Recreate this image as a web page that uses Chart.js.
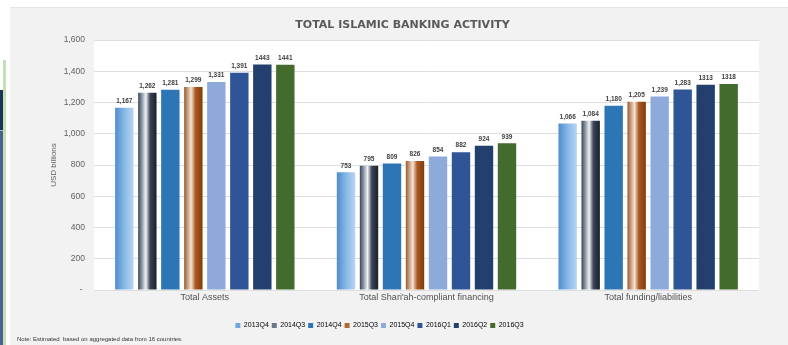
<!DOCTYPE html>
<html>
<head>
<meta charset="utf-8">
<script src="https://cdn.jsdelivr.net/npm/chart.js@4.4.1/dist/chart.umd.min.js"></script>
<style>
  html, body { margin: 0; padding: 0; background: #fff; }
  #wrap { position: relative; width: 788px; height: 345px; overflow: hidden; }
  #panel { position: absolute; left: 10px; top: 7px; width: 778px; height: 338px; background: #f2f2f2; border-top: 1px solid #e4e4e4; }
  #edgeGreen { position: absolute; left: 3px; top: 60px; width: 3px; height: 285px; background: #c5e0b4; }
  #edgeDark { position: absolute; left: 0; top: 90px; width: 3px; height: 40px; background: #1f3558; border-bottom: 1px solid #9fb6d6; }
  #edgeBlue { position: absolute; left: 0; top: 131px; width: 3px; height: 214px; background: #46648f; }
  #myChart { position: absolute; left: 0; top: 0; }
  #note { position: absolute; left: 17px; top: 336px; font: 6px "Liberation Sans", Arial, sans-serif; color: #333; white-space: pre; }
</style>
</head>
<body>
<div id="wrap">
  <div id="panel"></div>
  <div id="edgeGreen"></div>
  <div id="edgeDark"></div>
  <div id="edgeBlue"></div>
  <canvas id="myChart" width="788" height="345"></canvas>
  <div id="note">Note: Estimated  based on aggregated data from 16 countries.</div>
</div>
<script>
const categories = ['Total Assets', "Total Shari'ah-compliant financing", 'Total funding/liabilities'];
const quarters = ['2013Q4', '2014Q3', '2014Q4', '2015Q3', '2015Q4', '2016Q1', '2016Q2', '2016Q3'];

// USD billions per category, one array per quarter
const q2013Q4 = [1167, 753, 1066];
const q2014Q3 = [1262, 795, 1084];
const q2014Q4 = [1281, 809, 1180];
const q2015Q3 = [1299, 826, 1205];
const q2015Q4 = [1331, 854, 1239];
const q2016Q1 = [1391, 882, 1283];
const q2016Q2 = [1443, 924, 1313];
const q2016Q3 = [1441, 939, 1318];
const seriesValues = [q2013Q4, q2014Q3, q2014Q4, q2015Q3, q2015Q4, q2016Q1, q2016Q2, q2016Q3];

// these quarters print their labels without a thousands separator
const plainLabelQuarters = ['2016Q2', '2016Q3'];

const yTicks = [0, 200, 400, 600, 800, 1000, 1200, 1400, 1600];

// bar fills: a solid colour, plus horizontal gradient stops for the shaded ones
const fills = {
    '2013Q4': { solid: '#6fa8dc', stops: [[0, '#4e8ccd'], [0.55, '#8cbce8'], [1, '#b7d5f1']] },
    '2014Q3': { solid: '#6c7888', stops: [[0, '#3b4658'], [0.2, '#8995a5'], [0.42, '#f2f3f5'], [0.65, '#3a4556'], [1, '#18202d']] },
    '2014Q4': { solid: '#2e75b6' },
    '2015Q3': { solid: '#b06a36', stops: [[0, '#9b5a2b'], [0.38, '#f4e4d7'], [0.62, '#a9581f'], [1, '#843c0c']] },
    '2015Q4': { solid: '#8eaadb' },
    '2016Q1': { solid: '#2f5597' },
    '2016Q2': { solid: '#223f6e' },
    '2016Q3': { solid: '#436b2d' }
};

function barFill(name) {
    const f = fills[name];
    if (!f.stops) return f.solid;
    return function (ctx) {
        const el = ctx.element;
        if (!el || !isFinite(el.x) || !el.width) return f.solid;
        const g = ctx.chart.ctx.createLinearGradient(el.x - el.width / 2, 0, el.x + el.width / 2, 0);
        f.stops.forEach(s => g.addColorStop(s[0], s[1]));
        return g;
    };
}

function valueLabel(name, v) {
    return plainLabelQuarters.includes(name) ? String(v) : v.toLocaleString('en-US');
}

// white plotting area on the grey panel
const plotBackground = {
    id: 'plotBackground',
    beforeDraw(chart) {
        const { ctx, chartArea: a } = chart;
        ctx.save();
        ctx.fillStyle = '#ffffff';
        ctx.fillRect(a.left, a.top, a.right - a.left, a.bottom - a.top);
        ctx.restore();
    }
};

// value labels above each bar
const barValues = {
    id: 'barValues',
    afterDatasetsDraw(chart) {
        const ctx = chart.ctx;
        ctx.save();
        ctx.font = 'bold 6.5px "Liberation Sans", Arial, sans-serif';
        ctx.fillStyle = '#404040';
        ctx.textAlign = 'center';
        ctx.textBaseline = 'middle';
        chart.data.datasets.forEach((ds, i) => {
            chart.getDatasetMeta(i).data.forEach((bar, j) => {
                ctx.fillText(valueLabel(ds.label, ds.data[j]), bar.x, bar.y - 6.5);
            });
        });
        ctx.restore();
    }
};

// title sits a little right of the legend centre
const titleOffset = {
    id: 'titleOffset',
    afterLayout(chart) {
        if (chart.titleBlock) {
            chart.titleBlock.left += 23;
            chart.titleBlock.right += 23;
        }
    }
};

Chart.defaults.font.family = '"Liberation Sans", Arial, sans-serif';
Chart.defaults.color = '#595959';

const config = {
    type: 'bar',
    data: {
        labels: categories,
        datasets: quarters.map((q, i) => ({
            label: q,
            data: seriesValues[i],
            backgroundColor: barFill(q),
            borderWidth: 0,
            categoryPercentage: 0.83,
            barPercentage: 0.8
        }))
    },
    options: {
        responsive: false,
        animation: false,
        layout: { padding: { left: 0, right: 29, top: 0, bottom: 6 } },
        scales: {
            x: {
                grid: { display: false, drawTicks: false },
                border: { display: false },
                ticks: { padding: 2, font: { size: 9 }, color: '#505050' },
                afterFit(scale) { scale.height = 29; }
            },
            y: {
                min: 0,
                max: 1600,
                afterBuildTicks(scale) { scale.ticks = yTicks.map(v => ({ value: v })); },
                ticks: {
                    padding: 9,
                    font: { size: 8.5 },
                    color: '#606060',
                    callback: v => v === 0 ? '- ' : v.toLocaleString('en-US')
                },
                grid: { color: '#dedede', drawTicks: false },
                border: { display: false },
                title: {
                    display: true,
                    text: 'USD billions',
                    font: { size: 8 },
                    color: '#606060',
                    padding: { top: 49, bottom: 0 }
                },
                afterFit(scale) { scale.width = 94; }
            }
        },
        plugins: {
            title: {
                display: true,
                text: 'TOTAL ISLAMIC BANKING ACTIVITY',
                font: { family: '"DejaVu Sans", sans-serif', size: 11, weight: 'bold' },
                color: '#595959',
                padding: { top: 18.4, bottom: 8.4 }
            },
            legend: {
                position: 'bottom',
                labels: {
                    boxWidth: 5,
                    boxHeight: 5,
                    padding: 3,
                    font: { size: 7 },
                    color: '#595959',
                    generateLabels(chart) {
                        return chart.data.datasets.map((ds, i) => ({
                            text: ds.label,
                            fillStyle: fills[ds.label].solid,
                            strokeStyle: fills[ds.label].solid,
                            lineWidth: 0,
                            hidden: false,
                            datasetIndex: i
                        }));
                    }
                }
            },
            tooltip: { enabled: false }
        }
    },
    plugins: [plotBackground, barValues, titleOffset]
};

const myChart = new Chart(document.getElementById('myChart'), config);
// second pass so the gradient fills can read each bar's final position
myChart.update('none');
</script>
</body>
</html>
